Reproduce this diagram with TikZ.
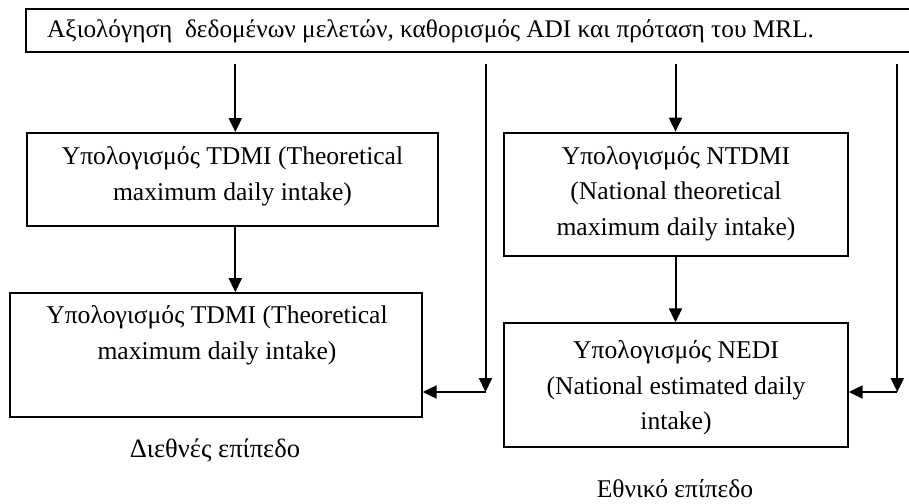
\documentclass[tikz,border=0pt]{standalone}
\usepackage{fontspec}
\setmainfont{Liberation Serif}
\usetikzlibrary{arrows.meta}
\begin{document}
\begin{tikzpicture}[x=1pt,y=-1pt,
  boxline/.style={draw, line width=2pt, rectangle, inner sep=0pt},
  txt/.style={font=\fontsize{25.6}{35.5}\selectfont, align=center, inner sep=0pt},
  toptxt/.style={font=\fontsize{25.3}{28}\selectfont, inner sep=0pt},
  lbl/.style={font=\fontsize{26.5}{30}\selectfont, inner sep=0pt},
  arr/.style={line width=2pt, -{Triangle[length=14pt,width=13pt]}},
  ln/.style={line width=2pt}]
\useasboundingbox (0,0) rectangle (909,503);

% top box (open to the right edge)
\draw[ln] (912,9.5) -- (26,9.5) -- (26,52.5) -- (912,52.5);
\node[toptxt, anchor=west] (top) at (47,31) {Αξιολόγηση\ \ δεδομένων μελετών, καθορισμός ADI και πρόταση του MRL.};

% boxes
\node[boxline, minimum width=411pt, minimum height=93pt] (b1) at (232.2,179.5) {};
\node[boxline, minimum width=411.7pt, minimum height=123.7pt] (b2) at (215.8,355) {};
\node[boxline, minimum width=343.4pt, minimum height=123.3pt] (b3) at (676,194.3) {};
\node[boxline, minimum width=343.4pt, minimum height=123.4pt] (b4) at (676,385) {};

% texts
\node[txt] (t1) at (232.5,176) {Υπολογισμός TDMI (Theoretical\\maximum daily intake)};
\node[txt] (t2) at (217,335) {Υπολογισμός TDMI (Theoretical\\maximum daily intake)};
\node[txt] (t3) at (676,193.3) {Υπολογισμός NTDMI\\(National theoretical\\maximum daily intake)};
\node[txt] (t4) at (676,388) {Υπολογισμός NEDI\\(National estimated daily\\intake)};

\node[lbl] (l1) at (215,450) {Διεθνές επίπεδο};
\node[lbl, font=\fontsize{25.5}{30}\selectfont] (l2) at (675,489) {Εθνικό επίπεδο};

% connectors
\coordinate (s1) at (235.3,64);
\coordinate (s2) at (485.5,64);
\coordinate (c2) at (485.5,392);
\coordinate (s3) at (675.5,64);
\coordinate (s4) at (897.3,64);
\coordinate (c4) at (897.3,392);

\draw[arr] (s1) -- (s1 |- b1.north);
\draw[arr] (b1.south -| s1) -- (b2.north -| s1);
\draw[arr] (s2) -- (c2);
\draw[arr] (c2) -- (c2 -| b2.east);
\draw[arr] (s3) -- (s3 |- b3.north);
\draw[arr] (b3.south -| s3) -- (b4.north -| s3);
\draw[arr] (s4) -- (c4);
\draw[arr] (c4) -- (c4 -| b4.east);
\end{tikzpicture}
\end{document}
